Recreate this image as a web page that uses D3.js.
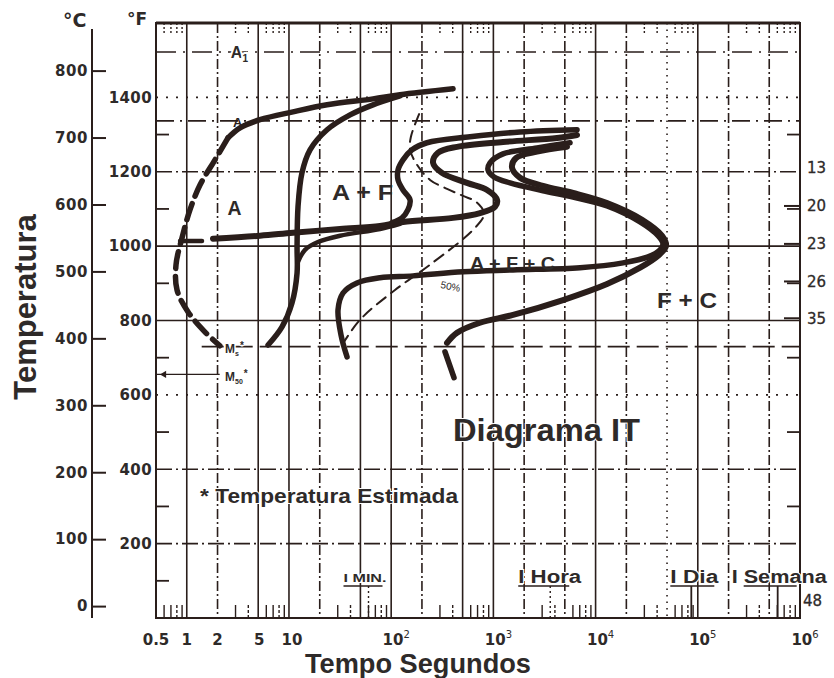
<!DOCTYPE html>
<html>
<head>
<meta charset="utf-8">
<script src="https://cdn.jsdelivr.net/npm/d3@7"></script>
<style>
  html, body { margin: 0; padding: 0; background: #fff; }
  svg { display: block; }
</style>
</head>
<body>
<svg id="chart" width="834" height="678"></svg>
<script>
// ---- Eixos ----
const tempoTicks   = [0.5, 1, 2, 5, 10, 100, 1000, 1e4, 1e5, 1e6];
const tempoLabels  = ["0.5", "1", "2", "5", "10", "10^2", "10^3", "10^4", "10^5", "10^6"];
const gradeTempo   = [1, 2, 5, 10, 20, 50, 100, 200, 500, 1000, 2000, 5000, 1e4, 2e4, 5e4, 1e5, 2e5, 5e5];
const ticksF       = [200, 400, 600, 800, 1000, 1200, 1400];
const ticksFMenor  = [100, 300, 500, 700, 900, 1100, 1300];
const ticksC       = [0, 100, 200, 300, 400, 500, 600, 700, 800];
const dureza       = [13, 20, 23, 26, 35, 48];
const durezaTempF  = [1210, 1108, 1006, 905, 806, 48];

// Marcos de tempo (s)
const marcos    = ["I MIN.", "I Hora", "I Dia", "I Semana"];
const marcosSeg = [60, 3600, 86400, 604800];

// Temperaturas críticas (°F)
const tempA1 = 1522, tempA = 1337, tempMs = 730, tempM50 = 655;

// ---- Curvas: [tempo (s), temperatura (°F)] ----
const inicioA = [[2.53,1291],[3.32,1318],[5.21,1340],[10.95,1361],[23.6,1380],[66.4,1396],[122,1407],[403,1423]];
const inicioAEstimado = [[2.53,1291],[1.89,1232],[1.35,1165],[1.076,1098],[0.898,1022],[0.785,950],[0.803,882],[1.03,823],[1.51,769],[2.11,732]];
const tracoCurto = [[0.86,1014],[1.41,1014]];
const inicioFerrita = [[6.24,734],[8.55,783],[10.7,847],[12.0,928],[12.0,998],[12.26,1106],[13.4,1197],[16.07,1259],[23.6,1313],[39.6,1353],[66.4,1380],[122,1404]];
const ramoFerrita = [[12.26,958],[14.35,990],[19.2,1011],[31.6,1028],[77.8,1046],[122,1060]];
const inicioPerlita = [[1.806,1020],[5.21,1028],[10.95,1036],[31.6,1046],[77.8,1054],[130.6,1065],[403,1076],[740,1089],[1038,1106],[1086,1124],[867,1151],[552,1170],[314,1197],[257,1224],[287,1251],[441,1267],[1243,1280],[4195,1291],[6584,1299]];
const fimFerrita = [[102,1063],[127.7,1076],[146,1098],[153,1124],[130.6,1151],[116.7,1178],[116.7,1205],[130.6,1232],[160,1259],[224,1278],[591,1294],[1823,1307],[6584,1313]];
const curvaInterna = [[36.98,702],[32.3,761],[30.2,829],[33.8,874],[46.3,901],[77.8,915],[163.6,920],[505,931],[1557,936],[7044,942],[18560,955],[32610,971],[42720,990],[45710,1006],[40830,1028],[27220,1065],[12940,1108],[6016,1132],[3060,1149],[1455,1170],[1015,1186],[886,1205],[927,1224],[1243,1248],[2674,1264],[5623,1278]];
const curvaExterna = [[352,740],[441,767],[740,794],[1557,815],[4803,855],[12940,898],[27220,942],[40830,974],[48920,1001],[44690,1028],[28480,1071],[12940,1116],[6016,1143],[3060,1162],[1823,1184],[1522,1211],[1666,1237],[2674,1254],[5254,1267]];
const curvaExternaBase = [[336,716],[412,646]];
const curva50 = [[33.0,734],[49.6,802],[109,882],[240,950],[661,1049],[810,1087],[677,1119],[505,1135],[352,1154],[240,1178],[179,1219],[153,1259],[156,1294],[191.5,1361]];

// ---- Desenho ----
const svg = d3.select("#chart");
const ink = "#2a1e1b";
const textInk = "#2e2a29";
const numFont = "'DejaVu Sans', sans-serif";
const sansFont = "'Liberation Sans', Arial, sans-serif";

const x = d3.scaleLog().domain([0.5, 1e6]).range([156, 800]);
const y = d3.scaleLinear().domain([0, 1600]).range([618, 23]);
const yC = d3.scaleLinear().domain([(0 - 32) * 5 / 9, (1600 - 32) * 5 / 9]).range([618, 23]);

svg.append("rect").attr("width", 834).attr("height", 678).attr("fill", "#fff");

const grade = svg.append("g").attr("stroke", ink).attr("fill", "none");

// linhas verticais da grade
function estiloVertical(v) {
  if (v === 5e4) return "1.5 5";
  if (v === 5000 || v === 5e5) return "10 3 2 3";
  const m = Math.round(v / Math.pow(10, Math.floor(Math.log10(v) + 1e-9)));
  return (m === 1 || m === 5) ? null : "10 3 2 3";
}
grade.selectAll("line.v").data(gradeTempo).join("line")
  .attr("class", "v")
  .attr("x1", d => x(d)).attr("x2", d => x(d))
  .attr("y1", y(1600)).attr("y2", y(0))
  .attr("stroke-width", 1.6)
  .attr("stroke-dasharray", d => estiloVertical(d));

// linhas horizontais da grade
function estiloHorizontal(v) {
  if (v === 1000 || v === 800) return null;
  if (v === 1400 || v === 600) return "2 8";
  return "16 4 2 4";
}
grade.selectAll("line.h").data(ticksF).join("line")
  .attr("class", "h")
  .attr("x1", x(0.5)).attr("x2", x(1e6))
  .attr("y1", d => y(d)).attr("y2", d => y(d))
  .attr("stroke-width", 1.6)
  .attr("stroke-dasharray", d => estiloHorizontal(d));

// marcas menores (°F ímpares) nas bordas esquerda e direita
grade.selectAll("line.mf").data(ticksFMenor).join("line")
  .attr("class", "mf")
  .attr("x1", x(0.5)).attr("x2", x(0.5) + 13)
  .attr("y1", d => y(d)).attr("y2", d => y(d)).attr("stroke-width", 1.8);
grade.selectAll("line.mfd").data(ticksFMenor).join("line")
  .attr("class", "mfd")
  .attr("x1", x(1e6) - 13).attr("x2", x(1e6))
  .attr("y1", d => y(d)).attr("y2", d => y(d)).attr("stroke-width", 1.8);

// marcas menores logarítmicas (base e topo)
const menores = [];
for (let e = -1; e < 6; e++) {
  for (const m of [3, 4, 6, 7, 8, 9]) {
    const v = m * Math.pow(10, e);
    if (v > 0.5 && v < 1e6) menores.push(v);
  }
}
grade.selectAll("line.mb").data(menores).join("line")
  .attr("class", "mb")
  .attr("x1", d => x(d)).attr("x2", d => x(d))
  .attr("y1", y(0)).attr("y2", y(0) - 13).attr("stroke-width", 1.4)
  .attr("stroke-dasharray", (d, i) => i % 3 === 2 ? "3 2" : null);
grade.selectAll("line.mt").data(menores).join("line")
  .attr("class", "mt")
  .attr("x1", d => x(d)).attr("x2", d => x(d))
  .attr("y1", y(1600)).attr("y2", y(1600) + 10).attr("stroke-width", 1.4)
  .attr("stroke-dasharray", "2 2");

// linhas críticas
grade.append("line").attr("x1", x(0.5)).attr("x2", x(1e6))
  .attr("y1", y(tempA1)).attr("y2", y(tempA1))
  .attr("stroke-width", 1.7).attr("stroke-dasharray", "20 7 2 7");
grade.append("line").attr("x1", x(0.5)).attr("x2", x(1e6))
  .attr("y1", y(tempA)).attr("y2", y(tempA))
  .attr("stroke-width", 1.7).attr("stroke-dasharray", "18 6 2 6");
grade.append("line").attr("x1", x(1.4)).attr("x2", x(1e6))
  .attr("y1", y(tempMs)).attr("y2", y(tempMs))
  .attr("stroke-width", 1.7).attr("stroke-dasharray", "22 7");
grade.append("line").attr("x1", x(0.5)).attr("x2", x(2.1))
  .attr("y1", y(tempM50)).attr("y2", y(tempM50))
  .attr("stroke-width", 1.4);
svg.append("path")
  .attr("d", d3.symbol().type(d3.symbolTriangle).size(22)())
  .attr("transform", `translate(${x(0.6)},${y(tempM50)}) rotate(-90)`)
  .attr("fill", ink);

// moldura
svg.append("rect")
  .attr("x", x(0.5)).attr("y", y(1600))
  .attr("width", x(1e6) - x(0.5)).attr("height", y(0) - y(1600))
  .attr("fill", "none").attr("stroke", ink).attr("stroke-width", 2);
svg.append("line").attr("x1", x(0.5)).attr("x2", x(1e6))
  .attr("y1", y(1600)).attr("y2", y(1600)).attr("stroke", ink).attr("stroke-width", 3);

// marcos de tempo na base
const gm = svg.append("g");
const dxMarco = [-25, -32, -21, -46];
const tamMarco = [10, 18, 18, 18];
const largMarco = [43, 63, 48, 95];
marcos.forEach((m, i) => {
  const xm = x(marcosSeg[i]);
  gm.append("line").attr("x1", xm).attr("x2", xm)
    .attr("y1", 586).attr("y2", y(0))
    .attr("stroke", ink).attr("stroke-width", i < 2 ? 1.4 : 1.8)
    .attr("stroke-dasharray", i < 2 ? "2 3" : null);
  const x0 = xm + dxMarco[i];
  gm.append("text").attr("x", x0).attr("y", i === 0 ? 582 : 583)
    .attr("font-family", sansFont).attr("font-weight", "bold")
    .attr("font-size", tamMarco[i]).attr("fill", textInk)
    .attr("textLength", largMarco[i]).attr("lengthAdjust", "spacingAndGlyphs")
    .attr("stroke", "#fff").attr("stroke-width", 2).attr("paint-order", "stroke")
    .text(m);
  const u0 = i === 3 ? x0 + 12 : x0;
  const u1 = i === 3 ? xm + 19 : (i === 1 ? x0 + 51 : x0 + largMarco[i] - 4);
  gm.append("line").attr("x1", u0).attr("x2", u1)
    .attr("y1", 586).attr("y2", 586).attr("stroke", ink).attr("stroke-width", 1.6);
});

// ---- Curvas ----
const linha = d3.line().x(d => x(d[0])).y(d => y(d[1])).curve(d3.curveCatmullRom.alpha(0.5));
const gc = svg.append("g").attr("fill", "none").attr("stroke", ink)
  .attr("stroke-linecap", "round").attr("stroke-linejoin", "round");
function curva(dados, w, tracejado) {
  gc.append("path").attr("d", linha(dados))
    .attr("stroke-width", w).attr("stroke-dasharray", tracejado || null);
}

// rótulo "A" pequeno sob a curva
svg.append("text").attr("x", x(2.83)).attr("y", y(1321))
  .attr("font-family", sansFont).attr("font-weight", "bold").attr("font-size", 13)
  .attr("fill", ink).text("A");

curva(curva50, 2, "11 7");
curva(inicioA, 5.5);
curva(inicioAEstimado, 5.5, "17 8");
curva(tracoCurto, 4.5);
curva(inicioFerrita, 5.5);
curva(ramoFerrita, 4.5);
curva(inicioPerlita, 6);
curva(fimFerrita, 5.5);
curva(curvaInterna, 5.5);
curva(curvaExterna, 6);
curva(curvaExternaBase, 5.5);

// ---- Eixos ----
// °F (borda esquerda)
const eixoF = svg.append("g").attr("transform", `translate(${x(0.5)},0)`)
  .call(d3.axisLeft(y).tickValues(ticksF).tickSize(0).tickPadding(4).tickFormat(d3.format("d")));
eixoF.select(".domain").remove();
eixoF.selectAll("text").attr("font-family", numFont).attr("font-weight", "bold")
  .attr("font-size", 15).attr("fill", textInk).attr("letter-spacing", 0.4);

// °C
const eixoC = svg.append("g").attr("transform", "translate(92,0)")
  .call(d3.axisRight(yC).tickValues(ticksC).tickSize(14).tickSizeOuter(0).tickFormat(d3.format("d")));
eixoC.select(".domain").attr("stroke", ink).attr("stroke-width", 2)
  .attr("d", `M0,${y(1600) + 6}V${y(0)}`);
eixoC.selectAll(".tick line").attr("stroke", ink).attr("stroke-width", 2);
eixoC.selectAll("text").attr("x", -4).attr("text-anchor", "end")
  .attr("font-family", numFont).attr("font-weight", "bold")
  .attr("font-size", 15).attr("fill", textInk).attr("letter-spacing", 0.6);

svg.append("text").attr("x", 63).attr("y", 27)
  .attr("font-family", numFont).attr("font-weight", "bold").attr("font-size", 19)
  .attr("fill", textInk).text("°C");
svg.append("text").attr("x", 127).attr("y", 25)
  .attr("font-family", numFont).attr("font-weight", "bold").attr("font-size", 17)
  .attr("fill", textInk).text("°F");

// dureza (borda direita)
const gd = svg.append("g");
dureza.forEach((h, i) => {
  const yy = y(durezaTempF[i]);
  if (i > 0 && i < 5) {
    gd.append("line").attr("x1", x(1e6) - 16).attr("x2", x(1e6))
      .attr("y1", yy).attr("y2", yy).attr("stroke", ink).attr("stroke-width", 2);
  }
  gd.append("text").attr("x", x(1e6) + (i === 5 ? 3 : 7)).attr("y", yy)
    .attr("dy", "0.36em").attr("font-family", numFont).attr("font-size", 15)
    .attr("fill", textInk).attr("stroke", textInk).attr("stroke-width", 0.3)
    .text(h);
});

// rótulos do eixo de tempo
const gt = svg.append("g");
tempoTicks.forEach((v, i) => {
  const lab = tempoLabels[i];
  const t = gt.append("text").attr("y", 645)
    .attr("font-family", numFont).attr("font-weight", "bold").attr("font-size", 15)
    .attr("fill", textInk).attr("text-anchor", "middle");
  if (lab.includes("^")) {
    const [b, e] = lab.split("^");
    t.attr("x", x(v) + 5);
    t.append("tspan").text(b);
    t.append("tspan").attr("font-size", 10).attr("dy", -7).attr("font-weight", "normal").text(e);
  } else {
    t.attr("x", x(v) + (v === 10 ? 3 : (v === 5 ? 1 : 0))).text(lab);
  }
});

// títulos dos eixos
svg.append("text")
  .attr("transform", "translate(36,307) rotate(-90)")
  .attr("text-anchor", "middle")
  .attr("font-family", sansFont).attr("font-weight", "bold").attr("font-size", 31)
  .attr("fill", textInk).text("Temperatura");
svg.append("text")
  .attr("x", 418).attr("y", 673).attr("text-anchor", "middle")
  .attr("font-family", sansFont).attr("font-weight", "bold").attr("font-size", 27)
  .attr("textLength", 226).attr("lengthAdjust", "spacingAndGlyphs")
  .attr("fill", textInk).text("Tempo Segundos");

// ---- Anotações ----
function rotulo(t, T, txt, tam, larg, halo) {
  const el = svg.append("text").attr("x", x(t)).attr("y", y(T))
    .attr("font-family", sansFont).attr("font-weight", "bold")
    .attr("font-size", tam).attr("fill", textInk);
  if (larg) el.attr("textLength", larg).attr("lengthAdjust", "spacingAndGlyphs");
  if (halo) el.attr("stroke", "#fff").attr("stroke-width", halo).attr("paint-order", "stroke");
  el.text(txt);
  return el;
}
rotulo(2.5, 1084, "A", 21, 14);
rotulo(26.4, 1124, "A + F", 22, 61);
rotulo(591, 936, "A + F + C", 18, 85);
rotulo(39940, 834, "F + C", 22, 60);
rotulo(403, 476, "Diagrama IT", 32, 187, 2);
rotulo(1.35, 309, "* Temperatura Estimada", 21, 258, 2);

// A₁
const a1 = rotulo(2.7, 1506, "", 16, null, 4);
a1.append("tspan").text("A");
a1.append("tspan").attr("font-size", 10).attr("dy", 4).text("1");

// Mₛ* e M₅₀* (asterisco em texto próprio, à direita do índice)
function rotuloM(T, sub) {
  const el = rotulo(2.37, T, "", 12, null, 3);
  el.append("tspan").text("M");
  el.append("tspan").attr("font-size", 7).attr("dy", 3).text(sub);
  const w = el.node().getComputedTextLength();
  svg.append("text").attr("x", x(2.37) + w + 1).attr("y", y(T) - 4)
    .attr("font-family", sansFont).attr("font-weight", "bold").attr("font-size", 10)
    .attr("fill", textInk).attr("stroke", "#fff").attr("stroke-width", 2)
    .attr("paint-order", "stroke").text("*");
}
rotuloM(713, "s");
rotuloM(637, "50");

// 50 %
svg.append("text")
  .attr("transform", `translate(${x(300)},${y(888)}) rotate(12)`)
  .attr("font-family", sansFont).attr("font-size", 10).attr("fill", textInk)
  .text("50%");
</script>
</body>
</html>
